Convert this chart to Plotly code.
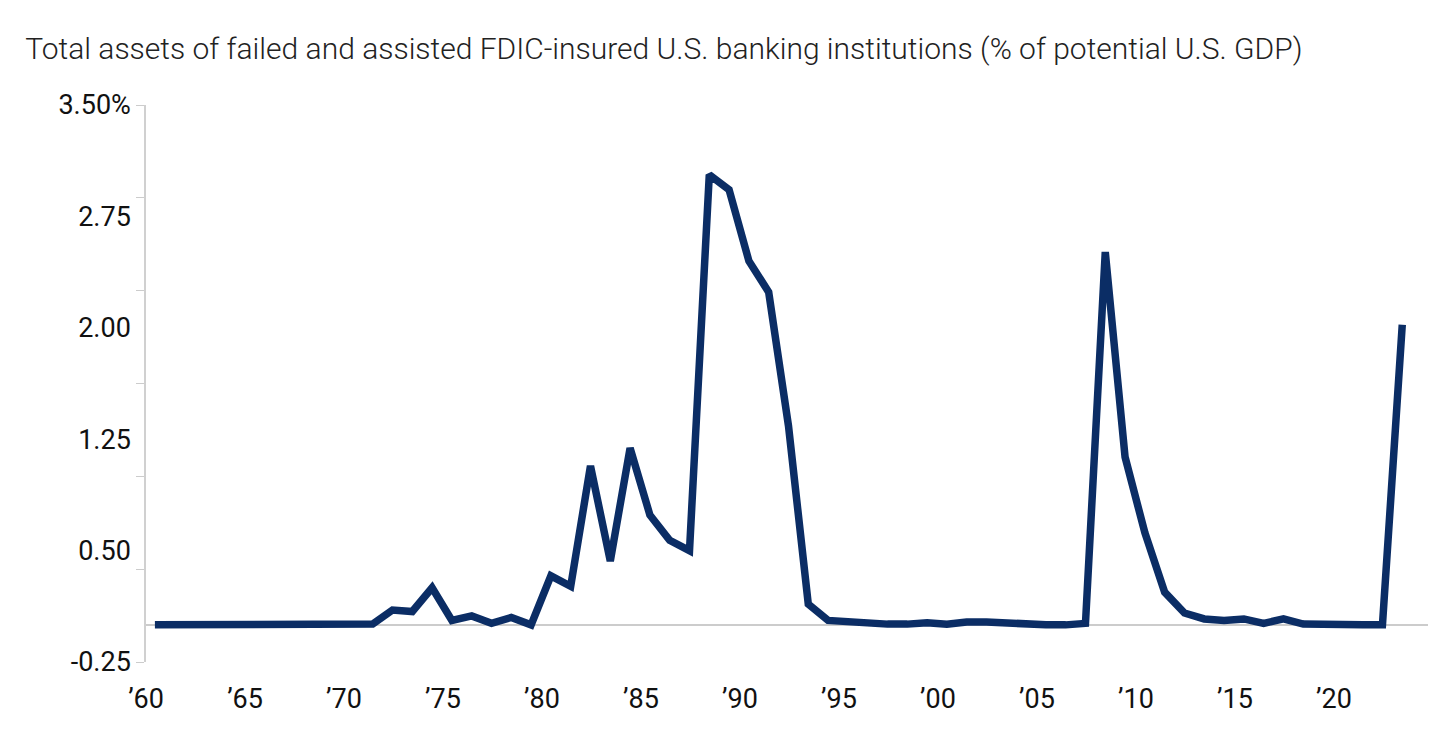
import plotly.graph_objects as go

years = list(range(1960, 2024))
assets_pct = [
    0.0, 0.0, 0.0, 0.0, 0.0, 0.005, 0.01, 0.0, 0.0, 0.0,
    0.003, 0.005, 0.1, 0.09, 0.25, 0.03, 0.06, 0.01, 0.05, 0.0,
    0.33, 0.26, 1.07, 0.43, 1.19, 0.74, 0.57, 0.5, 3.03, 2.93,
    2.45, 2.24, 1.34, 0.14, 0.03, 0.02, 0.01, 0.005, 0.005, 0.015,
    0.005, 0.02, 0.02, 0.01, 0.005, 0.0, 0.0, 0.01, 2.51, 1.13,
    0.62, 0.22, 0.08, 0.04, 0.03, 0.04, 0.01, 0.04, 0.005, 0.0,
    0.005, 0.0, 0.0, 2.02,
]
y_tickvals = [-0.25, 0.5, 1.25, 2.0, 2.75, 3.5]
y_ticktext = ["-0.25", "0.50", "1.25", "2.00", "2.75", "3.50%"]
x_tickyears = list(range(1960, 2021, 5))
x_ticktext = ["\u2019" + str(y)[2:] for y in x_tickyears]

FONT = "Roboto, sans-serif"

fig = go.Figure(go.Scatter(
    x=years, y=assets_pct, mode="lines",
    line=dict(color="#0b2d65", width=7.5),
    hoverinfo="skip",
))

fig.update_layout(
    width=1440, height=732,
    paper_bgcolor="white", plot_bgcolor="white",
    margin=dict(l=138, r=20, t=97, b=78),
    showlegend=False,
    font=dict(family=FONT, size=27, color="#111"),
    title=dict(
        text="Total assets of failed and assisted FDIC-insured U.S. banking institutions (% of potential U.S. GDP)",
        x=0.012, xanchor="left", y=0.945, yanchor="middle",
        font=dict(family=FONT, size=30, weight=300, color="#222"),
    ),
)
fig.update_xaxes(
    range=[1959.55, 2024.3],
    tickvals=[y - 0.45 for y in x_tickyears], ticktext=x_ticktext,
    showgrid=False, showline=False, zeroline=False, ticks="",
    ticklabelstandoff=18,
)
fig.update_yaxes(
    range=[-0.25, 3.5],
    tickvals=y_tickvals, ticktext=y_ticktext,
    showgrid=False, zeroline=True, zerolinecolor="#cccccc", zerolinewidth=2,
    showline=True, linecolor="#d0d0d0", linewidth=1.5, ticks="",
    minor=dict(tickvals=[-0.25, 0.375, 1.0, 1.625, 2.25, 2.875, 3.5],
               ticks="outside", ticklen=8, tickcolor="#cccccc"),
    ticklabelstandoff=8,
)

fig.write_html("out.html")
